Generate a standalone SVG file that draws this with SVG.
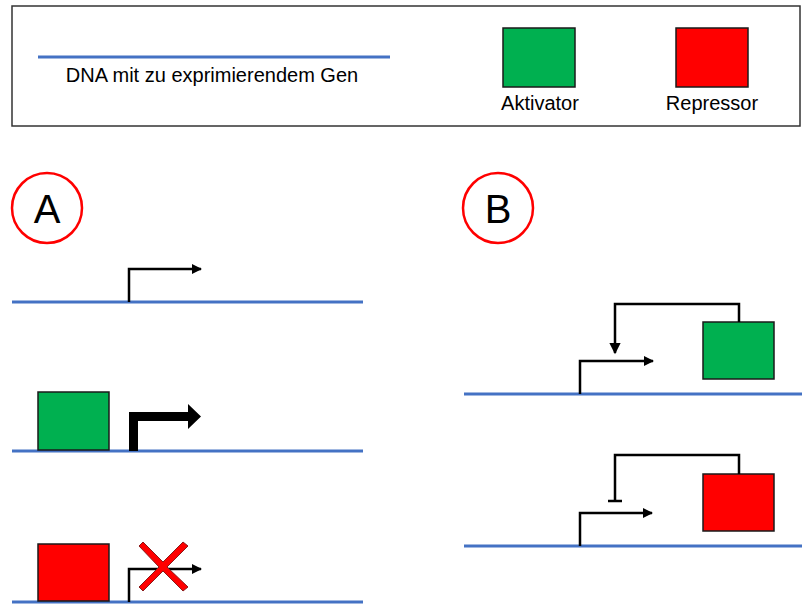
<svg xmlns="http://www.w3.org/2000/svg" width="802" height="604" viewBox="0 0 802 604">
  <style>
    .dna { stroke: #4472C4; stroke-width: 3; fill: none; }
    .lbl { font-family: "Liberation Sans", Arial, sans-serif; font-size: 20px; fill: #000; text-anchor: middle; }
    .big { font-family: "Liberation Sans", Arial, sans-serif; font-size: 40px; fill: #000; text-anchor: middle; }
    .act { fill: #00B050; stroke: #1a1a1a; stroke-width: 1.5; }
    .rep { fill: #FF0000; stroke: #1a1a1a; stroke-width: 1.5; }
    .prom { stroke: #000; stroke-width: 2.5; fill: none; }
    .ring { fill: #fff; stroke: #FF0000; stroke-width: 2.5; }
  </style>
  <defs>
    <marker id="tip" viewBox="0 0 10 10" refX="9" refY="5" markerWidth="5" markerHeight="4" markerUnits="strokeWidth" orient="auto">
      <path d="M0,0 L10,5 L0,10 z" fill="#000"/>
    </marker>
    <marker id="tipBig" viewBox="0 0 10 10" refX="9" refY="5" markerWidth="5.5" markerHeight="4.5" markerUnits="strokeWidth" orient="auto">
      <path d="M0,0 L10,5 L0,10 z" fill="#000"/>
    </marker>
  </defs>

  <!-- legend -->
  <g id="legend">
    <rect x="12" y="6" width="788" height="120" fill="#fff" stroke="#333" stroke-width="1.5"/>
    <line class="dna" x1="38" y1="57" x2="390" y2="57"/>
    <text class="lbl" x="212" y="82">DNA mit zu exprimierendem Gen</text>
    <rect class="act" x="503" y="28" width="72" height="59"/>
    <text class="lbl" x="540" y="110">Aktivator</text>
    <rect class="rep" x="676" y="28" width="72" height="59"/>
    <text class="lbl" x="712" y="110">Repressor</text>
  </g>

  <!-- panel labels -->
  <g id="label-A">
    <circle class="ring" cx="47" cy="208" r="35"/>
    <text class="big" x="47" y="223">A</text>
  </g>
  <g id="label-B">
    <circle class="ring" cx="498" cy="208" r="35"/>
    <text class="big" x="498" y="223">B</text>
  </g>

  <!-- A1: basal transcription -->
  <g id="A1">
    <line class="dna" x1="12" y1="302" x2="363" y2="302"/>
    <path class="prom" d="M129,302 V269 H201" marker-end="url(#tip)"/>
  </g>

  <!-- A2: activator boosts transcription -->
  <g id="A2">
    <line class="dna" x1="12" y1="451" x2="363" y2="451"/>
    <rect class="act" x="38" y="392" width="71" height="58"/>
    <path d="M129,451 V412 H188 V404 L201,416.5 L188,429 V421 H138 V451 Z" fill="#000"/>
  </g>

  <!-- A3: repressor blocks transcription -->
  <g id="A3">
    <line class="dna" x1="12" y1="602" x2="363" y2="602"/>
    <rect class="rep" x="38" y="544" width="71" height="57"/>
    <path class="prom" d="M129,602 V569 H201" marker-end="url(#tip)"/>
    <path d="M139,546 L143,542 L163,562 L183,542 L188,546 L167,567 L188,587 L183,591 L163,571 L143,591 L139,587 L159,567 Z" fill="#FF0000" stroke="#8b1a1a" stroke-width="1"/>
  </g>

  <!-- B1: positive feedback -->
  <g id="B1">
    <line class="dna" x1="464" y1="394" x2="802" y2="394"/>
    <path class="prom" d="M580,394 V361 H653" marker-end="url(#tip)"/>
    <rect class="act" x="703" y="322" width="71" height="57"/>
  </g>

  <!-- B2: negative feedback -->
  <g id="B2">
    <line class="dna" x1="464" y1="546" x2="802" y2="546"/>
    <path class="prom" d="M580,546 V513 H652" marker-end="url(#tip)"/>
    <rect class="rep" x="703" y="474" width="71" height="57"/>
  </g>

  <!-- feedback connectors -->
  <g id="connectors">
    <path class="prom" d="M739,322 V304 H615 V353" marker-end="url(#tipBig)"/>
    <path class="prom" d="M739,474 V455 H615 V501"/>
    <line class="prom" x1="608" y1="501" x2="622" y2="501"/>
  </g>
</svg>
